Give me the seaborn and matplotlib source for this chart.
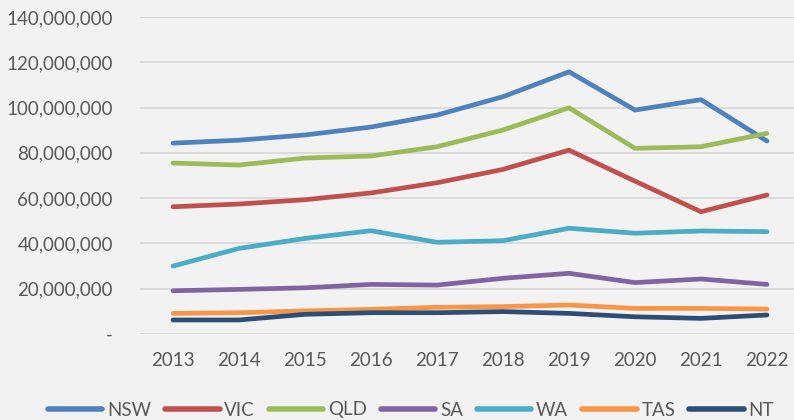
import seaborn as sns
import matplotlib.pyplot as plt
import matplotlib.ticker as mticker
import pandas as pd

# data
years = [2013, 2014, 2015, 2016, 2017, 2018, 2019, 2020, 2021, 2022]
nsw = [84.3, 85.6, 87.9, 91.4, 96.7, 104.8, 115.8, 98.9, 103.5, 85.2]
vic = [56.2, 57.4, 59.3, 62.3, 66.8, 72.7, 81.2, 67.5, 54.0, 61.4]
qld = [75.5, 74.6, 77.7, 78.6, 82.7, 90.1, 99.9, 82.0, 82.7, 88.6]
sa = [19.1, 19.7, 20.4, 21.9, 21.6, 24.6, 26.8, 22.7, 24.3, 21.9]
wa = [30.0, 37.8, 42.2, 45.6, 40.5, 41.2, 46.7, 44.5, 45.5, 45.2]
tas = [9.1, 9.4, 10.2, 10.9, 11.8, 12.1, 12.8, 11.3, 11.3, 11.0]
nt = [6.2, 6.2, 8.7, 9.4, 9.4, 9.9, 9.1, 7.6, 6.9, 8.4]

states = ["NSW", "VIC", "QLD", "SA", "WA", "TAS", "NT"]
colors = ["#4F81BD", "#C0504D", "#9BBB59", "#8064A2", "#4BACC6", "#F79646", "#2C4D75"]

series = dict(zip(states, [nsw, vic, qld, sa, wa, tas, nt]))
rows = []
for st, vals in series.items():
    for i, (yr, v) in enumerate(zip(years, vals)):
        rows.append({"pos": i, "year": yr, "state": st, "value": v * 1e6})
df = pd.DataFrame(rows)

sns.set_style("white")
plt.rcParams['font.family'] = ['Lato', 'DejaVu Sans']

fig = plt.figure(figsize=(7.94, 4.2), dpi=100, facecolor="#F2F2F2")
ax = fig.add_axes([140 / 794, 86 / 420, 660 / 794, 317 / 420])
ax.set_facecolor("#F2F2F2")

sns.lineplot(data=df, x="pos", y="value", hue="state", hue_order=states,
             palette=colors, linewidth=3.4, ax=ax, solid_capstyle="round",
             legend=True)

ax.set_xlim(-0.5, 9.5)
ax.set_ylim(0, 140e6)
ax.set_yticks(range(0, 140000001, 20000000))
ax.yaxis.set_major_formatter(mticker.FuncFormatter(
    lambda v, p: "-" if v == 0 else f"{int(v):,}"))
ax.set_xticks(range(len(years)))
ax.set_xticklabels([str(y) for y in years])
ax.grid(axis="y", color="#D9D9D9", linewidth=1.3)
ax.set_axisbelow(True)
for s in ax.spines.values():
    s.set_visible(False)
ax.tick_params(axis="both", length=0, labelsize=13.5, labelcolor="#595959")
ax.tick_params(axis="y", pad=19.5)
ax.tick_params(axis="x", pad=13)
ax.set_xlabel("")
ax.set_ylabel("")

handles, labels = ax.get_legend_handles_labels()
ax.legend(handles, labels, loc="center", bbox_to_anchor=(411 / 794, 10 / 420),
          bbox_transform=fig.transFigure, ncol=7, frameon=False,
          handlelength=2.9, handletextpad=0.25, columnspacing=0.75,
          fontsize=13.5, labelcolor="#595959")
for line in ax.get_legend().get_lines():
    line.set_linewidth(4.0)
    line.set_solid_capstyle("round")

fig.savefig("out.png", dpi=100, facecolor=fig.get_facecolor())
